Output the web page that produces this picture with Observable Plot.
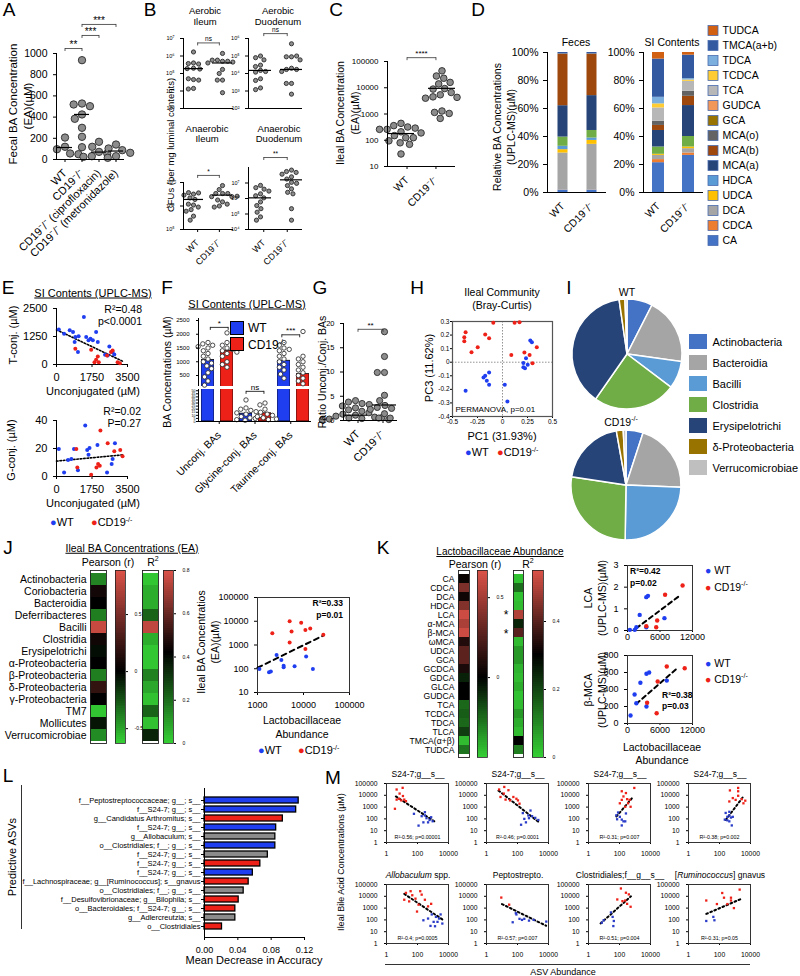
<!DOCTYPE html>
<html><head><meta charset="utf-8">
<script src="https://cdn.jsdelivr.net/npm/d3@7"></script>
<script src="https://cdn.jsdelivr.net/npm/@observablehq/plot@0.6"></script>
<style>
body{margin:0;background:#fff;}
#root{position:relative;width:800px;height:976px;overflow:hidden;background:#fff;font-family:'Liberation Sans',Arial,sans-serif;color:#000;}
#root svg{position:absolute;overflow:visible;max-width:none !important;}
</style></head>
<body><div id="root"></div>
<script>
// ======================= DATA =======================
// A
const aGroups = ["WT", "CD19-/-", "CD19-/- (ciprofloxacin)", "CD19-/- (metronidazole)"];
const aLabels = ["WT", "CD19⁻/⁻", "CD19⁻/⁻ (ciprofloxacin)", "CD19⁻/⁻ (metronidazole)"];
const aWT = [207, 120, 97, 57, 50];
const aCD19 = [937, 528, 519, 503, 425, 384, 299, 214, 116];
const aCipro = [167, 120, 72, 57, 31, 25];
const aMetro = [141, 104, 88, 63, 31, 16];
const aMedians = [113, 425, 70, 80];
const aTicks = [0, 200, 400, 600, 800, 1000];
const aBrackets = [{i1: 0, i2: 1, y: 1047, label: "**"}, {i1: 1, i2: 2, y: 1170, label: "***"}, {i1: 1, i2: 3, y: 1274, label: "***"}];
// B
const bGroups = ["WT", "CD19-/-"];
const bLabels = ["WT", "CD19⁻/⁻"];
const bAerIleumWT = [1.7e6, 4e5, 3.7e5, 3.5e5, 2e5, 1.9e5, 1.8e5, 4.5e4, 5e4, 4.2e4, 1.4e4, 1.3e4];
const bAerIleumCD = [1.4e6, 5e5, 5.8e5, 5e5, 5.8e5, 4.5e5, 4e5, 1.7e5, 1e5, 4.2e4, 4.2e4, 8e3];
const bAerDuoWT = [1e5, 8e4, 6e4, 3e4, 2.5e4, 1.5e4, 1.3e4, 1.2e4, 5e3, 4e3, 1.5e3, 1.2e3];
const bAerDuoCD = [5e5, 9e4, 9e4, 1e5, 6e4, 2e4, 1.7e4, 1.7e4, 1.3e4, 2.7e3, 2.7e3, 6.6e2];
const bAnIleumWT = [3.2e6, 3.7e6, 3.6e6, 2.9e6, 2.2e6, 1.9e6, 1.1e6, 1.2e6, 9e5, 7e5, 6e5, 3.7e5, 2.5e5];
const bAnIleumCD = [7.4e6, 5e6, 3.4e6, 3.4e6, 3.4e6, 2.5e6, 2.5e6, 2.6e6, 1.5e6, 1.8e6, 1e6, 1.2e6, 9e5];
const bAnDuoWT = [7e6, 5e6, 4e6, 3e6, 2e6, 1.5e6, 1.1e6, 6e5, 3.5e5, 2.2e5, 1.3e5, 6.5e4, 4e4];
const bAnDuoCD = [6.8e7, 5.5e7, 4.8e7, 3.7e7, 2.5e7, 1.8e7, 1.1e7, 9.5e6, 6.8e6, 4.2e6, 2.5e6, 2e6, 2.2e5, 4e4];
const bMedians = {aerIleum: [1.9e5, 4e5], aerDuo: [1.5e4, 1.7e4], anIleum: [1.9e6, 2.9e6], anDuo: [1.1e6, 1.6e7]};
// C
const cWT = [440, 360, 320, 290, 260, 260, 210, 190, 150, 125, 125, 95, 80, 70, 30];
const cCD19 = [44000, 28000, 23000, 16000, 14000, 9300, 8900, 6600, 5400, 4500, 4300, 4000, 1300, 1150, 1050, 680];
const cMedians = [180, 9500];
const cTicks = [10, 100, 1000, 10000, 100000];
// D
const dAcids = ["CA", "CDCA", "DCA", "UDCA", "HDCA", "LCA", "MCA(a)", "MCA(b)", "MCA(o)", "GCA", "GUDCA", "TCA", "TCDCA", "TDCA", "TMCA(a+b)", "TUDCA"];
const dColors = ["#4472C4", "#ED7D31", "#A5A5A5", "#FFC000", "#5B9BD5", "#70AD47", "#264478", "#9E480E", "#636363", "#997300", "#F1975A", "#B7B7B7", "#FFCD33", "#7CAFDD", "#335AA1", "#D26012"];
const dLegend = ["TUDCA", "TMCA(a+b)", "TDCA", "TCDCA", "TCA", "GUDCA", "GCA", "MCA(o)", "MCA(b)", "MCA(a)", "HDCA", "UDCA", "DCA", "CDCA", "CA"];
const dFecesWT = [1.7, 0.1, 26.4, 2.4, 2.4, 6.6, 22.4, 36.8, 0.2, 0, 0, 0, 0, 0, 1.0, 0];
const dFecesCD19 = [1.7, 0.1, 32.6, 2.8, 1.7, 5.4, 24.9, 29.6, 0.2, 0, 0, 0, 0, 0, 1.0, 0];
const dSIWT = [21.3, 2.2, 3.0, 0.8, 0, 5.2, 11.8, 3.6, 3.0, 0, 0, 9.5, 2.9, 4.7, 27.3, 4.7];
const dSICD19 = [26.5, 1.7, 3.1, 1.2, 0, 7.5, 22.1, 6.6, 3.6, 0, 0, 7.1, 0.9, 1.0, 16.8, 1.9];
const dTicks = [0, 20, 40, 60, 80, 100];
// E
const eTconjWT = [[114,1557],[374,1377],[651,1527],[814,1452],[928,1228],[895,1003],[1091,1257],[1351,2126],[1465,1228],[1579,1078],[1677,1153],[1791,1078],[1953,1452],[2035,1003],[1058,554],[2393,434],[2605,808],[2767,554],[2849,449],[2523,404]];
const eTconjCD = [[928,704],[1709,659],[1872,105],[1953,210],[2035,359],[2084,105],[2491,404],[2686,554],[2767,629],[3012,105],[3126,60]];
const eTconjTrend = [[0,1550],[3300,130]];
const eGconjWT = [[114,19.6],[374,2.9],[863,19.6],[1058,4.5],[1416,36.4],[1514,18.9],[1628,20.4],[1579,15.6],[733,12.5],[570,11.7],[2019,22.5],[2491,2.9],[2767,12.5],[2881,23.7],[2719,8.9]];
const eGconjCD = [[977,19.6],[1026,6.5],[2165,32.8],[2523,23.7],[2849,18],[3142,18.9],[3256,14.4],[2051,8.9],[2133,7.7],[1970,6.5],[1709,1.2]];
const eGconjTrend = [[0,11],[3300,15.5]];
const eXTicks = [0, 1750, 3500];
// F
const fCats = ["Unconj. BAs", "Glycine-conj. BAs", "Taurine-conj. BAs"];
const fGenos = ["WT", "CD19-/-"];
const fMeans = [[1062, 1400], [12.7, 13.3], [1035, 550]];
const fPoints = [
  [[1700,1650,1600,1550,1500,1400,1300,1200,1100,1000,950,850,750,600,450,300,150], [2050,1700,1600,1500,1450,1400,1350,1300,1200,1000,900,800]],
  [[35,22,20,18,16,14,12,10,8,6,5,3,2], [30,27,20,15,12,10,8,6,4,3]],
  [[1700,1600,1500,1450,1400,1300,1200,1100,1000,900,800,700,550,400], [2100,1200,1100,1000,900,800,700,600,500,400,300,200]]
];
const fUpperTicks = [500, 1000, 1500, 2000, 2500];
const fLowerTicks = [0, 5, 10, 15, 20, 25, 30, 35, 40, 45, 50];
// G
const gWT = [4.1,3.8,3.5,3.3,3.0,2.6,2.2,1.9,1.6,1.3,1.1,0.9,0.7,0.6,0.5,0.4,0.3,0.2,0.1];
const gCD19 = [18.3,13.2,9.9,9.9,5.2,4.1,3.1,2.7,2.5,2.3,1.4,0.5,0.5];
const gMedians = [1.1, 3.2];
const gTicks = [0, 5, 10, 15, 20];
// H
const hWT = [[-0.369,-0.21],[-0.19,-0.112],[-0.173,-0.1],[-0.157,-0.136],[-0.134,-0.075],[-0.134,-0.166],[0.023,-0.166],[0.049,-0.289],[0.209,-0.006],[0.235,0.029],[0.209,-0.038],[0.252,-0.018],[0.278,0.16],[0.294,0.147],[0.225,-0.045]];
const hCD19 = [[-0.369,0.221],[-0.382,0.184],[-0.382,0.155],[-0.31,0.073],[-0.248,0.110],[-0.173,0.204],[-0.134,0.177],[-0.092,0.29],[0.121,0.29],[0.17,0.295],[0.088,0.054],[0.343,0.110],[0.219,0.071],[0.271,0.054],[0.30,-0.008]];
const hTicksX = [-0.5, -0.25, 0, 0.25, 0.5];
const hTicksY = [-0.4, -0.3, -0.2, -0.1, 0, 0.1, 0.2, 0.3];
// I
const iTaxa = ["Actinobacteria", "Bacteroidia", "Bacilli", "Clostridia", "Erysipelotrichi", "δ-Proteobacteria", "Verrucomicrobiae"];
const iColors = ["#4472C4", "#A5A5A5", "#5B9BD5", "#70AD47", "#264478", "#997300", "#BFBFBF"];
const iWT = [7.5, 19.7, 8.1, 24.4, 38.0, 1.7, 0.6];
const iCD19 = [5.0, 20.5, 24.5, 27.0, 19.7, 2.0, 0.8];
// J
const jTaxa = ["Actinobacteria", "Coriobacteria", "Bacteroidia", "Deferribacteres", "Bacilli", "Clostridia", "Erysipelotrichi", "α-Proteobacteria", "β-Proteobacteria", "δ-Proteobacteria", "γ-Proteobacteria", "TM7", "Mollicutes", "Verrucomicrobiae"];
const jPearson = [-0.4, 0.08, 0.0, -0.38, 0.8, 0.07, -0.04, 0.0, -0.38, 0.2, 0.01, -0.6, -0.06, -0.42];
const jR2 = [0.02, 0.07, 0.07, 0.22, 0.75, 0.07, 0.02, 0.02, 0.16, 0.08, 0.03, 0.22, 0.03, 0.35];
const jRedPts = [[2100,3100],[5000,10000],[5500,3700],[5000,1260],[8900,8700],[11000,4300],[14000,5000],[11000,680],[27000,2700]];
const jBluePts = [[1100,98],[1780,71],[1950,76],[2600,380],[3300,235],[3700,135],[3700,115],[6400,126],[11400,330],[16000,98]];
const jTrend = [[1000,110],[28000,2600]];
// K
const kAcids = ["CA", "CDCA", "DCA", "HDCA", "LCA", "α-MCA", "β-MCA", "ωMCA", "UDCA", "GCA", "GCDCA", "GDCA", "GLCA", "GUDCA", "TCA", "TCDCA", "TDCA", "TLCA", "TMCA(α+β)", "TUDCA"];
const kPearson = [0.03, 0.38, 0.05, 0.4, 0.62, 0.52, 0.62, 0.1, 0.28, 0.28, 0.08, -0.08, 0.0, 0.0, -0.25, -0.22, -0.25, -0.15, -0.45, -0.28];
const kR2 = [0.02, 0.14, 0.02, 0.03, 0.5, 0.25, 0.4, 0.03, 0.08, 0.08, 0.04, 0.03, 0.05, 0.02, 0.03, 0.08, 0.05, 0.03, 0.3, 0.12];
const kLcaWT = [[430,0.03],[1640,0.15],[2250,0.72],[3470,1.54],[3780,1.6],[3470,0.15],[6820,0.57],[1340,0.03]];
const kLcaCD = [[3470,0.2],[5300,0.15],[5480,0.46],[6940,1.65],[10170,2.08]];
const kLcaTrend = [[1600,0.1],[9600,1.6]];
const kBmcaWT = [[2380,479],[3500,585],[4000,600],[1310,341],[1630,239],[560,94],[3500,200],[7250,505]];
const kBmcaCD = [[7250,670],[10560,650],[5570,494],[3620,244],[5380,121]];
const kBmcaTrend = [[1600,230],[9000,640]];
// L
const lLabels = ["f__Peptostreptococcaceae; g__; s__", "f__S24-7; g__; s__", "g__Candidatus Arthromitus; s__", "f__S24-7; g__; s__", "g__Allobaculum; s__", "o__Clostridiales; f__; g__; s__", "f__S24-7; g__; s__", "f__S24-7; g__; s__", "f__S24-7; g__; s__", "f__Lachnospiraceae; g__[Ruminococcus]; s__gnavus", "o__Clostridiales; f__; g__; s__", "f__Desulfovibrionaceae; g__Bilophila; s__", "o__Bacteroidales; f__S24-7; g__; s__", "g__Adlercreutzia; s__", "o__Clostridiales"];
const lValues = [0.113, 0.110, 0.094, 0.086, 0.085, 0.085, 0.076, 0.067, 0.058, 0.053, 0.047, 0.041, 0.037, 0.037, 0.021];
const lGroup = ["WT", "WT", "CD19", "WT", "NS", "WT", "NS", "CD19", "WT", "CD19", "NS", "CD19", "CD19", "NS", "CD19"];
const lTicks = [0, 0.04, 0.08, 0.12];
// M
const mTitles = ["S24-7;g__s__", "S24-7;g__s__", "S24-7;g__s__", "S24-7;g__s__", "<i>Allobaculum</i> spp.", "Peptostrepto.", "Clostridiales;f__g__s__", "[<i>Ruminococcus</i>] gnavus"];
const mStats = ["R²-0.56; p=0.00001", "R²-0.46; p=0.0001", "R²-0.31; p=0.007", "R²-0.38; p=0.002", "R²-0.4; p=0.0005", "R²-0.57; p=0.007", "R²-0.51; p=0.004", "R²-0.31; p=0.05"];
const mRed = [
  [[4.5,31000],[11,43000],[7,14000],[4.5,4300],[6.5,5100],[9,3700],[3.5,720],[14,4300],[11.5,8700],[18,3200]],
  [[6.5,31000],[14,51000],[26,27000],[13,14000],[54,7200],[33,3700],[85,5100],[17,4300],[135,1950],[107,3700],[8,7200]],
  [[140,22000],[260,15500],[900,42000],[180,8000],[140,4100],[310,4700],[450,4100],[360,2100],[520,1070],[235,1070],[105,2100]],
  [[470,26000],[1600,42000],[1600,22000],[720,5800],[1600,9100],[2700,4700],[4600,3500],[3500,2100],[1100,4100],[430,3000]],
  [[18,19500],[36,27000],[46,12300],[74,6300],[29,3700],[14,5100],[150,27000],[186,13800],[300,5100],[117,1950],[93,510],[760,2300],[480,1400]],
  [[9,7800],[29,1950]],
  [[123,46000],[260,20000],[72,5400],[155,3900],[235,4400],[400,14500],[310,2300],[520,1300]],
  [[14,4400],[68,2200],[150,19000],[195,7600],[320,2200],[550,4400],[850,1000],[2000,37000],[550,7600]]
];
const mBlue = [
  [[59,270],[117,27],[186,170],[300,195],[380,115],[600,81],[760,138],[480,51],[950,63],[240,51],[300,370]],
  [[220,310],[500,195],[550,115],[870,170],[1400,123],[170,32],[2200,81],[350,51],[275,100],[690,510]],
  [[81,350],[105,150],[70,93],[140,87],[180,62],[140,28],[235,62],[62,200],[260,290]],
  [[220,87],[320,150],[430,200],[430,400],[250,320],[550,130],[620,28],[320,76],[430,62],[720,150]],
  [[240,93],[480,130],[830,290],[1100,68],[1550,180],[1950,68],[3100,290],[1350,29],[690,31],[2450,130],[4000,49]],
  [[49,63],[78,370],[85,290],[135,123],[195,100],[275,123],[550,87],[1100,100],[7200,72]],
  [[9.5,93],[7.2,58],[28,430],[36,180],[43,81],[40,30]],
  [[14,81],[40,180],[47,93]]
];
const mTrend = [
  [[4,8000],[1600,50]], [[6,25000],[2500,50]], [[63,160],[800,8000]], [[250,80],[3500,8000]],
  [[14,16000],[4500,100]], [[10,2200],[7000,32]], [[6,50],[550,10000]], [[14,320],[2200,5600]]
];
const mXTicks = [1, 100, 10000];
const mYTicks = [1, 10, 100, 1000, 10000, 100000];

// ======================= HELPERS =======================
const FONT = "'Liberation Sans', Arial, Helvetica, sans-serif";
const BLUE = "#1f3ef0", RED = "#ee2118";
const GREEN_HI = "#35d035", RED_HI = "#dc5248";
const root = document.getElementById("root");
const num = d => String(d);

function plotAt(x0, y0, x1, y1, m, opts, fs = 10) {
  const [t, r, b, l] = m;
  const svg = Plot.plot({
    ...opts,
    width: Math.round(x1 - x0 + l + r),
    height: Math.round(y1 - y0 + t + b),
    marginTop: t, marginRight: r, marginBottom: b, marginLeft: l,
    style: `font-family:${FONT};font-size:${fs}px;background:transparent;overflow:visible;color:#000;`
  });
  svg.style.position = "absolute";
  svg.style.left = (x0 - l) + "px";
  svg.style.top = (y0 - t) + "px";
  root.appendChild(svg);
  return svg;
}
function axisFont(svg, which, size) {
  svg.querySelectorAll(`g[aria-label^="${which}-axis"]`).forEach(g => { g.style.fontSize = size + "px"; });
}
function T(html, x, y, o = {}) {
  const d = document.createElement("div");
  d.innerHTML = html;
  const s = d.style;
  s.position = "absolute"; s.left = x + "px"; s.top = y + "px"; s.whiteSpace = "nowrap";
  s.fontSize = (o.size || 10) + "px"; s.lineHeight = "1"; s.fontFamily = FONT;
  if (o.bold) s.fontWeight = "bold";
  if (o.italic) s.fontStyle = "italic";
  if (o.ul) s.textDecoration = "underline";
  const ax = o.anchor === "start" ? "0" : o.anchor === "end" ? "-100%" : "-50%";
  s.transform = `translate(${ax},-50%)` + (o.rot ? ` rotate(${o.rot}deg)` : "");
  root.appendChild(d);
  return d;
}
function hline(x0, x1, y, w = 1) {
  const d = document.createElement("div");
  Object.assign(d.style, {position: "absolute", left: x0 + "px", top: y + "px", width: (x1 - x0) + "px", height: "0", borderTop: `${w}px solid #333`});
  root.appendChild(d);
}
function vline(x, y0, y1, w = 1) {
  const d = document.createElement("div");
  Object.assign(d.style, {position: "absolute", left: x + "px", top: y0 + "px", width: "0", height: (y1 - y0) + "px", borderLeft: `${w}px solid #333`});
  root.appendChild(d);
}
function safe(name, fn) { try { fn(); } catch (e) { console.error(name, e); } }

const sup = {"0": "⁰", "1": "¹", "2": "²", "3": "³", "4": "⁴", "5": "⁵", "6": "⁶", "7": "⁷", "8": "⁸", "9": "⁹", "-": "⁻"};
const pow10 = v => "10" + String(Math.round(Math.log10(v))).split("").map(c => sup[c]).join("");

function dotPanel(c) {
  const n = c.groups.length, p = c.pad;
  const pts = c.groups.flatMap((g, i) => c.values[i].map(v => ({g, v})));
  const meds = c.groups.map((g, i) => ({g, v: c.medians[i]}));
  const [x0, y0, x1, y1] = c.frame;
  const m = [6, 6, 6, 30];
  const ys = {type: c.ytype || "linear", domain: c.ydomain, label: null};
  plotAt(x0, y0, x1, y1, m, {
    fx: {domain: c.groups, padding: p, axis: null, label: null},
    y: {...ys, axis: null},
    marks: [
      Plot.dot(pts, Plot.dodgeX("middle", {fx: "g", y: "v", r: c.r, fill: "#8c8c8c", stroke: "#2a2a2a", strokeWidth: 0.9})),
      Plot.ruleY(meds, {fx: "g", y: "v", stroke: "#000", strokeWidth: 1.2, insetLeft: c.medInset || 0, insetRight: c.medInset || 0})
    ]
  });
  const lo = -(1 + p) / 2, hi = n + p - (1 + p) / 2;
  const br = c.brackets || [];
  const ends = br.flatMap(b => [{x: b.i1, y: b.y}, {x: b.i2, y: b.y}]);
  const svg = plotAt(x0, y0, x1, y1, m, {
    x: {domain: [lo, hi], label: null, axis: c.labels ? "bottom" : null, ticks: d3.range(n), tickFormat: i => c.labels ? c.labels[i] : "", tickRotate: -45, tickSize: 3},
    y: {...ys, ticks: c.yticks, tickFormat: c.yfmt || num, tickSize: 3},
    marks: [
      Plot.ruleX([lo], {strokeWidth: 1}),
      Plot.ruleY([c.ydomain[0]], {strokeWidth: 1}),
      Plot.link(br, {x1: "i1", x2: "i2", y1: "y", y2: "y", strokeWidth: 0.8, stroke: "#333"}),
      Plot.ruleX(ends, {x: "x", y1: "y", y2: "y", insetBottom: -3, strokeWidth: 0.8, stroke: "#333"}),
      Plot.text(br, {x: d => (d.i1 + d.i2) / 2, y: "y", text: "label", dy: -4, fontSize: c.starSize || 9})
    ]
  }, c.yfs);
  if (c.labels) axisFont(svg, "x", c.xfs);
}

function colorbar(x0, y0, x1, y1, scale, ticks, fs) {
  const lo = scale.domain[0], hi = scale.domain[scale.domain.length - 1];
  const N = 90, dv = (hi - lo) / N;
  const steps = d3.range(N).map(i => lo + i * dv);
  plotAt(x0, y0, x1, y1, [0, 14, 0, 0], {
    x: {domain: [0, 1], axis: null},
    y: {domain: [lo, hi], ticks, tickFormat: num, tickSize: 2, axis: "right", label: null},
    color: scale,
    marks: [
      Plot.rect(steps, {x1: d => 0, x2: d => 1, y1: d => d, y2: d => Math.min(hi, d + dv * 2.5), fill: d => d + dv / 2, shapeRendering: "crispEdges"}),
      Plot.frame({stroke: "#222", strokeWidth: 0.8})
    ]
  }, fs);
}
function heatCol(x0, y0, x1, y1, rows, values, scale, showLabels, fs) {
  const data = rows.map((t, i) => ({t, v: values[i]}));
  plotAt(x0, y0, x1, y1, [0, 0, 0, showLabels ? 100 : 0], {
    x: {axis: null},
    y: {domain: rows, padding: 0, label: null, axis: showLabels ? "left" : null, tickSize: 0, tickPadding: 4},
    color: scale,
    marks: [Plot.cell(data, {y: "t", fill: "v", inset: 0, shapeRendering: "crispEdges"}), Plot.frame({stroke: "#222", strokeWidth: 0.9})]
  }, fs);
}

// ======================= PANEL LETTERS =======================
[["A", 9, 9], ["B", 150, 9], ["C", 336, 9], ["D", 478, 9], ["E", 8, 287], ["F", 167, 287], ["G", 320, 287], ["H", 417, 287], ["I", 569, 287], ["J", 8, 547], ["K", 383, 547], ["L", 8, 775], ["M", 333, 777]]
  .forEach(([s, x, y]) => T(s, x, y, {size: 19}));

// ======================= A =======================
safe("A", () => {
  dotPanel({groups: aGroups, labels: aLabels, values: [aWT, aCD19, aCipro, aMetro], medians: aMedians,
    frame: [56, 53, 124, 159], pad: 0, r: 3.7, ydomain: [0, 1000], yticks: aTicks, yfs: 10.5, xfs: 11, starSize: 10, brackets: aBrackets, medInset: 1});
  T("Fecal BA Concentration", 14, 104, {size: 11.5, rot: -90});
  T("(EA)(µM)", 29, 106, {size: 11.5, rot: -90});
});

// ======================= B =======================
safe("B", () => {
  const common = {groups: bGroups, pad: 0.3, r: 2.1, ytype: "log", yfmt: pow10, yfs: 5.5, xfs: 9, starSize: 6.5};
  dotPanel({...common, values: [bAerIleumWT, bAerIleumCD], medians: bMedians.aerIleum, frame: [183, 38, 233, 108],
    ydomain: [1e3, 1e7], yticks: [1e3, 1e4, 1e5, 1e6, 1e7], brackets: [{i1: 0, i2: 1, y: 5.6e6, label: "ns"}]});
  dotPanel({...common, values: [bAerDuoWT, bAerDuoCD], medians: bMedians.aerDuo, frame: [248, 38, 302, 108],
    ydomain: [1e2, 1e6], yticks: [1e2, 1e3, 1e4, 1e5, 1e6], brackets: [{i1: 0, i2: 1, y: 1.9e6, label: "ns"}]});
  dotPanel({...common, labels: bLabels, values: [bAnIleumWT, bAnIleumCD], medians: bMedians.anIleum, frame: [183, 182, 233, 229],
    ydomain: [1e5, 1e7], yticks: [1e5, 1e6, 1e7], brackets: [{i1: 0, i2: 1, y: 2e7, label: "*"}]});
  dotPanel({...common, labels: bLabels, values: [bAnDuoWT, bAnDuoCD], medians: bMedians.anDuo, frame: [248, 167, 302, 229],
    ydomain: [1e4, 1e8], yticks: [1e4, 1e5, 1e6, 1e7], brackets: [{i1: 0, i2: 1, y: 4.4e8, label: "**"}]});
  T("Aerobic", 205, 11, {size: 9.5}); T("Ileum", 205, 22, {size: 9.5});
  T("Aerobic", 278, 11, {size: 9.5}); T("Duodenum", 278, 22, {size: 9.5});
  T("Anaerobic", 207, 129, {size: 9.5}); T("Ileum", 207, 139, {size: 9.5});
  T("Anaerobic", 279, 129, {size: 9.5}); T("Duodenum", 279, 139, {size: 9.5});
  T("CFUs (per mg luminal contents)", 171, 145, {size: 9.5, rot: -90});
});

// ======================= C =======================
safe("C", () => {
  dotPanel({groups: bGroups, labels: bLabels, values: [cWT, cCD19], medians: cMedians, frame: [387, 61, 455, 166], pad: 0.35,
    r: 3.3, ytype: "log", ydomain: [10, 100000], yticks: cTicks, yfs: 8, xfs: 10.5, starSize: 8,
    brackets: [{i1: 0, i2: 1, y: 140000, label: "****"}], medInset: 0});
  T("Ileal BA Concentration", 340, 113, {size: 10.5, rot: -90});
  T("(EA)(µM)", 355, 113, {size: 10.5, rot: -90});
});

// ======================= D =======================
safe("D", () => {
  const color = {domain: dAcids, range: dColors};
  const stack = (g, vals) => dAcids.map((a, k) => ({g, acid: a, v: vals[k]}));
  const mk = (x0, x1, rows, inset) => {
    const svg = plotAt(x0, 52, x1, 192, [4, 4, 4, 40], {
      x: {domain: ["WT", "CD19-/-"], padding: 0, tickFormat: g => g === "WT" ? "WT" : "CD19⁻/⁻", tickRotate: -45, tickSize: 0, label: null},
      y: {domain: [0, 100], ticks: dTicks, tickFormat: d => d + "%", tickSize: 4, label: null, line: true},
      color,
      marks: [Plot.barY(rows, {x: "g", y: "v", fill: "acid", insetLeft: inset, insetRight: inset}), Plot.ruleY([0])]
    }, 10.5);
    axisFont(svg, "x", 10.5);
  };
  mk(547, 606, [...stack("WT", dFecesWT), ...stack("CD19-/-", dFecesCD19)], 9.5);
  mk(643, 703, [...stack("WT", dSIWT), ...stack("CD19-/-", dSICD19)], 9);
  plotAt(708, 18, 718, 252, [0, 80, 0, 0], {
    x: {axis: null},
    y: {domain: dLegend, padding: 0, axis: "right", tickSize: 0, tickPadding: 4, label: null},
    color,
    marks: [Plot.cell(dLegend, {y: d => d, fill: d => d, insetTop: 2.5, insetBottom: 2.5, stroke: "#4a6cb0", strokeWidth: 0.8})]
  }, 10.5);
  T("Relative BA Concentrations", 497, 127, {size: 10.5, rot: -90});
  T("(UPLC-MS)(µM)", 511, 127, {size: 10.5, rot: -90});
  T("Feces", 576, 42, {size: 10.5});
  T("SI Contents", 672, 42, {size: 10.5});
});

// ======================= E =======================
safe("E", () => {
  plotAt(56, 308, 127, 364, [4, 4, 4, 4], {
    x: {domain: [0, 3500], ticks: eXTicks, tickFormat: num, tickSize: 3, label: null},
    y: {domain: [0, 2500], ticks: [0, 1250, 2500], tickFormat: num, tickSize: 3, label: null},
    marks: [
      Plot.ruleX([0]), Plot.ruleY([0]),
      Plot.line(eTconjTrend, {x: d => d[0], y: d => d[1], strokeDasharray: "1.6,1.8", strokeWidth: 1.6}),
      Plot.dot(eTconjWT, {x: d => d[0], y: d => d[1], r: 2, fill: BLUE}),
      Plot.dot(eTconjCD, {x: d => d[0], y: d => d[1], r: 2, fill: RED})
    ]
  }, 11);
  plotAt(56, 420, 127, 476, [4, 4, 4, 4], {
    x: {domain: [0, 3500], ticks: eXTicks, tickFormat: num, tickSize: 3, label: null},
    y: {domain: [0, 40], ticks: [0, 20, 40], tickFormat: num, tickSize: 3, label: null},
    marks: [
      Plot.ruleX([0]), Plot.ruleY([0]),
      Plot.line(eGconjTrend, {x: d => d[0], y: d => d[1], strokeDasharray: "1.6,1.8", strokeWidth: 1.6}),
      Plot.dot(eGconjWT, {x: d => d[0], y: d => d[1], r: 2, fill: BLUE}),
      Plot.dot(eGconjCD, {x: d => d[0], y: d => d[1], r: 2, fill: RED})
    ]
  }, 11);
  T("SI Contents (UPLC-MS)", 93, 293, {size: 11, ul: true});
  T("R²=0.48", 142, 309, {size: 10.5, anchor: "end"});
  T("p<0.0001", 142, 321, {size: 10.5, anchor: "end"});
  T("T-conj. (µM)", 13, 335, {size: 11, rot: -90});
  T("Unconjugated (µM)", 93, 391, {size: 11});
  T("R²=0.02", 141, 411, {size: 10.5, anchor: "end"});
  T("P=0.27", 141, 423, {size: 10.5, anchor: "end"});
  T("G-conj. (µM)", 11, 450, {size: 11, rot: -90});
  T("Unconjugated (µM)", 93, 503, {size: 11});
  T(`<span style="color:${BLUE}">●</span>WT`, 50, 522, {size: 11, anchor: "start"});
  T(`<span style="color:${RED}">●</span>CD19<sup style="font-size:7px">-/-</sup>`, 91, 522, {size: 11, anchor: "start"});
});

// ======================= F =======================
safe("F", () => {
  const keys = fCats.flatMap(c => fGenos.map(g => c + "|" + g));
  const bars = fCats.flatMap((c, i) => fGenos.map((g, j) => ({key: c + "|" + g, geno: g, v: fMeans[i][j]})));
  const pts = fCats.flatMap((c, i) => fGenos.flatMap((g, j) => fPoints[i][j].map(v => ({key: c + "|" + g, v}))));
  const p = 0.32, n = keys.length, lo = -(1 + p) / 2, hi = n + p - (1 + p) / 2;
  const color = {domain: fGenos, range: [BLUE, RED]};
  const seg = (y0, y1, dom, ptsSel) => plotAt(198, y0, 311, y1, [4, 4, 4, 30], {
    fx: {domain: keys, padding: p, axis: null, label: null},
    y: {domain: dom, axis: null, label: null},
    color,
    marks: [
      Plot.barY(bars, {fx: "key", y: "v", fill: "geno", stroke: "#000", strokeWidth: 0.8, clip: true}),
      Plot.dot(ptsSel, Plot.dodgeX("middle", {fx: "key", y: "v", r: 2.2, fill: "#fff", stroke: "#222", strokeWidth: 0.8}))
    ]
  });
  seg(318, 386, [100, 2573], pts.filter(d => d.v >= 100));
  seg(389, 421, [0, 52], pts.filter(d => d.v <= 52));
  const brU = [{i1: 0, i2: 1, y: 2250, label: "*"}, {i1: 4, i2: 5, y: 1980, label: "***"}];
  const brL = [{i1: 2, i2: 3, y: 49, label: "ns"}];
  const brMarks = (br) => [
    Plot.link(br, {x1: "i1", x2: "i2", y1: "y", y2: "y", strokeWidth: 0.8}),
    Plot.ruleX(br.flatMap(b => [{x: b.i1, y: b.y}, {x: b.i2, y: b.y}]), {x: "x", y1: "y", y2: "y", insetBottom: -3, strokeWidth: 0.8}),
    Plot.text(br, {x: d => (d.i1 + d.i2) / 2, y: "y", text: "label", dy: -4, fontSize: 8})
  ];
  plotAt(198, 318, 311, 386, [4, 4, 4, 30], {
    x: {domain: [lo, hi], axis: null},
    y: {domain: [100, 2573], ticks: fUpperTicks, tickFormat: num, tickSize: 2, label: null},
    marks: [Plot.ruleX([lo]), ...brMarks(brU)]
  }, 6);
  const svg = plotAt(198, 389, 311, 421, [4, 4, 4, 30], {
    x: {domain: [lo, hi], ticks: [0.5, 2.5, 4.5], tickFormat: v => fCats[Math.round((v - 0.5) / 2)], tickRotate: -45, tickSize: 3, label: null},
    y: {domain: [0, 52], ticks: fLowerTicks, tickFormat: num, tickSize: 2, tickPadding: 1, label: null},
    marks: [Plot.ruleX([lo]), Plot.ruleY([0]), ...brMarks(brL)]
  }, 3.6);
  axisFont(svg, "x", 10.5);
  T("SI Contents (UPLC-MS)", 247, 304, {size: 11, ul: true});
  T("BA Concentrations (µM)", 167, 372, {size: 10.5, rot: -90});
  const sw = (y, col, label) => {
    const d = document.createElement("div");
    Object.assign(d.style, {position: "absolute", left: "230px", top: (y - 6) + "px", width: "12px", height: "12px", background: col, border: "1px solid #000"});
    root.appendChild(d);
    T(label, 248, y + 1, {size: 12, anchor: "start"});
  };
  sw(327, BLUE, "WT");
  sw(343, RED, "CD19<sup style='font-size:7px'>-/-</sup>");
});

// ======================= G =======================
safe("G", () => {
  dotPanel({groups: bGroups, labels: bLabels, values: [gWT, gCD19], medians: gMedians, frame: [343, 323, 397, 420], pad: 0.16,
    r: 3.1, ydomain: [0, 20], yticks: gTicks, yfs: 7.5, xfs: 11, starSize: 8,
    brackets: [{i1: 0, i2: 1, y: 18.8, label: "**"}], medInset: 0});
  T("Ratio Unconj./Conj. BAs", 322, 372, {size: 10.5, rot: -90});
});

// ======================= H =======================
safe("H", () => {
  plotAt(452, 321, 552, 416, [4, 4, 14, 22], {
    x: {domain: [-0.5, 0.5], ticks: hTicksX, tickFormat: num, tickSize: 2, tickPadding: 1, label: null},
    y: {domain: [-0.4, 0.3], ticks: hTicksY, tickFormat: num, tickSize: 2, tickPadding: 1, label: null},
    marks: [
      Plot.ruleX([0], {stroke: "#777", strokeDasharray: "1.5,1.5", strokeWidth: 0.8}),
      Plot.ruleY([0], {stroke: "#777", strokeDasharray: "1.5,1.5", strokeWidth: 0.8}),
      Plot.frame({stroke: "#555", strokeWidth: 1.2}),
      Plot.dot(hWT, {x: d => d[0], y: d => d[1], r: 2, fill: BLUE}),
      Plot.dot(hCD19, {x: d => d[0], y: d => d[1], r: 2, fill: RED}),
      Plot.text(["PERMANOVA, p=0.01"], {text: d => d, frameAnchor: "bottom-left", textAnchor: "start", dx: 3, dy: -5, fontSize: 8})
    ]
  }, 6.5);
  T("Ileal Community", 502, 292, {size: 10.5});
  T("(Bray-Curtis)", 502, 305, {size: 10.5});
  T("PC1 (31.93%)", 502, 436, {size: 11});
  T("PC3 (11.62%)", 429, 368, {size: 11, rot: -90});
  T(`<span style="color:${BLUE}">●</span>WT`, 465, 452, {size: 11, anchor: "start"});
  T(`<span style="color:${RED}">●</span>CD19<sup style="font-size:7px">-/-</sup>`, 497, 452, {size: 11, anchor: "start"});
});

// ======================= I =======================
safe("I", () => {
  const color = {domain: iTaxa, range: iColors};
  const pie = (vals, x0, y0, size) => {
    const slices = iTaxa.map((name, k) => ({name, value: vals[k]}));
    plotAt(x0, y0, x0 + size, y0 + size, [0, 0, 0, 0], {
      x: {domain: [0, 1], axis: null}, y: {domain: [0, 1], axis: null},
      color,
      marks: [
        Plot.dot(slices, {x: d => 0.5, y: d => 0.5, fill: "name", r: 0}),
        (index, scales, values, dim) => {
          const cx = dim.width / 2, cy = dim.height / 2;
          const col = scales && typeof scales.color === "function" ? scales.color : (n => iColors[iTaxa.indexOf(n)]);
          const arcs = d3.pie().sort(null).value(d => d.value)(slices);
          const arc = d3.arc().innerRadius(0).outerRadius(size / 2);
          const g = d3.create("svg:g").attr("transform", `translate(${cx},${cy})`);
          g.selectAll("path").data(arcs).join("path").attr("d", arc).attr("fill", d => col(d.data.name)).attr("stroke", "#fff").attr("stroke-width", 1.5);
          return g.node();
        }
      ]
    });
  };
  pie(iWT, 572, 299, 110);
  pie(iCD19, 571, 430, 110);
  plotAt(689, 331, 707, 478, [0, 120, 0, 0], {
    x: {axis: null},
    y: {domain: iTaxa, padding: 0, axis: "right", tickSize: 0, tickPadding: 5, label: null},
    color,
    marks: [Plot.cell(iTaxa, {y: d => d, fill: d => d, insetTop: 3, insetBottom: 3})]
  }, 11);
  T("WT", 627, 292, {size: 10.5});
  T("CD19<sup style='font-size:7px'>-/-</sup>", 621, 421, {size: 10.5});
});

// ======================= J =======================
safe("J", () => {
  const sR = {type: "linear", domain: [-0.63, 0, 0.886], range: [GREEN_HI, "#000000", RED_HI], interpolate: "rgb"};
  const sR2 = {type: "linear", domain: [0, 0.42, 0.8], range: [GREEN_HI, "#000000", RED_HI], interpolate: "rgb"};
  heatCol(90, 570, 106, 743, jTaxa, jPearson, sR, true, 10.5);
  colorbar(115, 570, 125, 743, sR, [-0.5, 0, 0.5], 5);
  heatCol(142, 570, 158, 743, jTaxa, jR2, sR2, false, 10);
  colorbar(163, 570, 173, 743, sR2, [0, 0.2, 0.4, 0.6, 0.8], 5);
  T("Ileal BA Concentrations (EA)", 132, 548, {size: 10.5, ul: true});
  T("Pearson (r)", 108, 562, {size: 10.5});
  T("R<sup style='font-size:7px'>2</sup>", 153, 561, {size: 10.5});
  plotAt(257, 597, 349, 692, [4, 4, 4, 40], {
    x: {type: "log", domain: [1000, 100000], ticks: [1000, 10000, 100000], tickFormat: num, tickSize: 3, label: null},
    y: {type: "log", domain: [10, 100000], ticks: [10, 100, 1000, 10000, 100000], tickFormat: num, tickSize: 3, label: null},
    marks: [
      Plot.frame({stroke: "#333"}),
      Plot.line(jTrend, {x: d => d[0], y: d => d[1], strokeDasharray: "5,4", strokeWidth: 2}),
      Plot.dot(jRedPts, {x: d => d[0], y: d => d[1], r: 2, fill: RED}),
      Plot.dot(jBluePts, {x: d => d[0], y: d => d[1], r: 2, fill: BLUE})
    ]
  }, 9);
  T("R²=0.33", 343, 603, {size: 8.5, bold: true, anchor: "end"});
  T("p=0.01", 343, 615, {size: 8.5, bold: true, anchor: "end"});
  T("Ileal BA Concentratios", 201, 642, {size: 10.5, rot: -90});
  T("(EA)(µM)", 215, 642, {size: 10.5, rot: -90});
  T("Lactobacillaceae", 302, 720, {size: 10.5});
  T("Abundance", 302, 734, {size: 10.5});
  T(`<span style="color:${BLUE}">●</span>WT`, 258, 750, {size: 11, anchor: "start"});
  T(`<span style="color:${RED}">●</span>CD19<sup style="font-size:7px">-/-</sup>`, 298, 750, {size: 11, anchor: "start"});
});

// ======================= K =======================
safe("K", () => {
  const sR = {type: "linear", domain: [-0.5, 0, 0.67], range: [GREEN_HI, "#000000", RED_HI], interpolate: "rgb"};
  const sR2 = {type: "linear", domain: [0, 0.3, 0.55], range: [GREEN_HI, "#000000", RED_HI], interpolate: "rgb"};
  heatCol(458, 570, 469, 757, kAcids, kPearson, sR, true, 8.6);
  colorbar(477, 570, 487, 757, sR, [0, 0.5], 5);
  heatCol(513, 570, 523, 757, kAcids, kR2, sR2, false, 8.6);
  colorbar(532, 570, 543, 757, sR2, [0, 0.2, 0.4], 5);
  T("Lactobacillaceae Abundance", 500, 552, {size: 10, ul: true});
  T("Pearson (r)", 475, 564, {size: 10.5});
  T("R<sup style='font-size:7px'>2</sup>", 528, 563, {size: 10.5});
  T("*", 506, 615, {size: 12});
  T("*", 506, 634, {size: 12});
  const sc = (y0, y1, dom, ticks, wt, cd, trend) => plotAt(627, y0, 692, y1, [4, 4, 4, 30], {
    x: {domain: [0, 12000], ticks: [0, 6000, 12000], tickFormat: num, tickSize: 2, tickPadding: 1, label: null},
    y: {domain: dom, ticks, tickFormat: num, tickSize: 3, label: null},
    marks: [
      Plot.frame({stroke: "#333"}),
      Plot.line(trend, {x: d => d[0], y: d => d[1], strokeDasharray: "4.5,3.5", strokeWidth: 2}),
      Plot.dot(wt, {x: d => d[0], y: d => d[1], r: 2.2, fill: BLUE}),
      Plot.dot(cd, {x: d => d[0], y: d => d[1], r: 2.2, fill: RED})
    ]
  }, 9);
  sc(565, 630, [0, 3], [0, 1, 2, 3], kLcaWT, kLcaCD, kLcaTrend);
  sc(655, 723, [0, 800], [0, 200, 400, 600, 800], kBmcaWT, kBmcaCD, kBmcaTrend);
  T("R²=0.42", 630, 571, {size: 8.5, bold: true, anchor: "start"});
  T("p=0.02", 630, 583, {size: 8.5, bold: true, anchor: "start"});
  T("R²=0.38", 662, 695, {size: 8.5, bold: true, anchor: "start"});
  T("p=0.03", 662, 706, {size: 8.5, bold: true, anchor: "start"});
  T("LCA", 588, 598, {size: 10.5, rot: -90});
  T("(UPLC-MS)(µM)", 602, 598, {size: 10.5, rot: -90});
  T("β-MCA", 588, 690, {size: 10.5, rot: -90});
  T("(UPLC-MS)(µM)", 602, 690, {size: 10.5, rot: -90});
  T("Lactobacillaceae", 662, 747, {size: 10.5});
  T("Abundance", 662, 760, {size: 10.5});
  [[570, 586], [663, 678]].forEach(([y1, y2]) => {
    T(`<span style="color:${BLUE}">●</span> WT`, 705, y1, {size: 10.5, anchor: "start"});
    T(`<span style="color:${RED}">●</span> CD19<sup style="font-size:7px">-/-</sup>`, 705, y2, {size: 10.5, anchor: "start"});
  });
});

// ======================= L =======================
safe("L", () => {
  const rows = lValues.map((v, i) => ({i, v, g: lGroup[i]}));
  const svg = plotAt(204, 788, 304, 937, [0, 4, 4, 190], {
    y: {domain: d3.range(lLabels.length), padding: 0.38, tickFormat: i => lLabels[i], tickSize: 3, tickPadding: 1, label: null},
    x: {domain: [0, 0.12], ticks: lTicks, tickFormat: d => d.toFixed(2), tickSize: 3, label: null, line: true},
    color: {domain: ["WT", "CD19", "NS"], range: [BLUE, RED, "#8c8c8c"]},
    marks: [Plot.barX(rows, {y: "i", x: "v", fill: "g", stroke: "#000", strokeWidth: 1.3}), Plot.ruleX([0])]
  }, 9);
  axisFont(svg, "y", 7.5);
  vline(21, 785, 929);
  T("Predictive ASVs", 12, 857, {size: 11, rot: -90});
  T("Mean Decrease in Accuracy", 254, 960, {size: 11});
});

// ======================= M =======================
safe("M", () => {
  const xs = [386, 486, 588, 688], ys = [783, 884];
  for (let k = 0; k < 8; k++) {
    const x0 = xs[k % 4], y0 = ys[Math.floor(k / 4)];
    plotAt(x0, y0, x0 + 62, y0 + 59, [2, 4, 10, 28], {
      x: {type: "log", domain: [1, 10000], ticks: mXTicks, tickFormat: num, tickSize: 2, label: null},
      y: {type: "log", domain: [1, 100000], ticks: mYTicks, tickFormat: num, tickSize: 2, label: null},
      marks: [
        Plot.frame({stroke: "#333"}),
        Plot.line(mTrend[k], {x: d => d[0], y: d => d[1], strokeDasharray: "1.8,2.6", strokeWidth: 2}),
        Plot.dot(mRed[k], {x: d => d[0], y: d => d[1], r: 1.3, symbol: "square", fill: RED}),
        Plot.dot(mBlue[k], {x: d => d[0], y: d => d[1], r: 1.3, symbol: "square", fill: "#2a3cc8"}),
        Plot.text([mStats[k]], {text: d => d, frameAnchor: "bottom", dy: -4, fontSize: 5.3})
      ]
    }, 6.8);
    T(mTitles[k], x0 + 32, y0 - 9, {size: 8.5});
  }
  T("Ileal Bile Acid Concentrations (µM)", 341, 862, {size: 9, rot: -90});
  hline(385, 750, 964);
  T("ASV Abundance", 563, 972, {size: 9});
});
</script></body></html>
